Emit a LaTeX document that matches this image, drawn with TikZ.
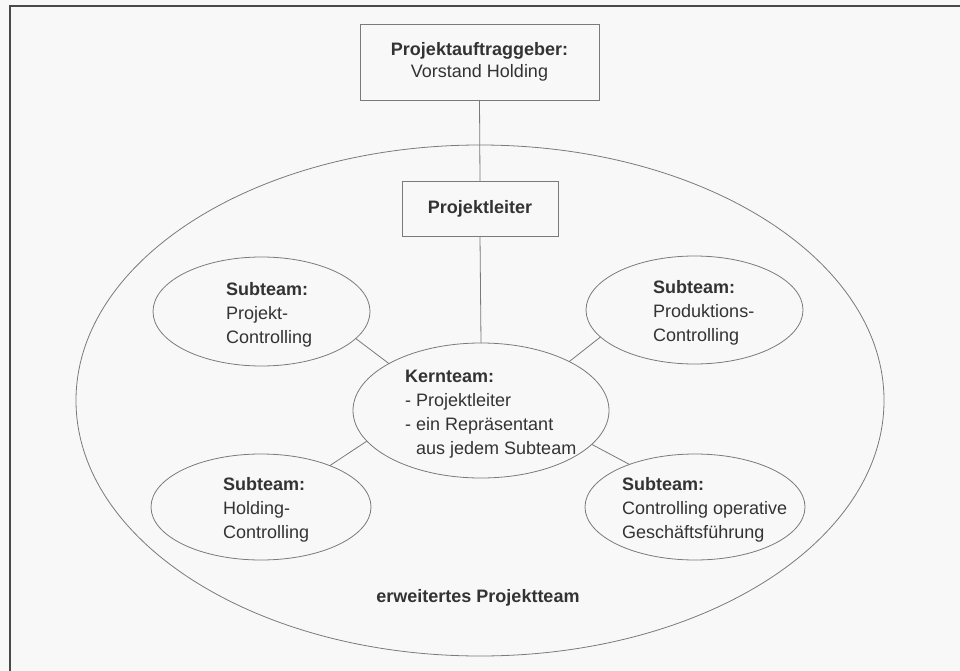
\documentclass[tikz,border=0pt]{standalone}
\usepackage{fontspec}
\setmainfont{Liberation Sans}
\usetikzlibrary{shapes.geometric}
\definecolor{ink}{HTML}{333333}
\definecolor{edge}{HTML}{7A7A7A}
\definecolor{paper}{HTML}{F8F8F8}
\definecolor{framec}{HTML}{4A4A4A}
\begin{document}
\begin{tikzpicture}[x=1pt,y=-1pt,
  every node/.style={text=ink, font=\fontsize{18}{22}\selectfont},
  ebox/.style={draw=edge, line width=0.8pt, rectangle, inner sep=0pt, outer sep=0pt, align=center},
  eell/.style={draw=edge, line width=0.8pt, ellipse, inner sep=0pt, outer sep=0pt},
  txt/.style={anchor=north west, inner sep=0pt, align=left, font=\fontsize{18}{24}\selectfont},
  link/.style={draw=edge, line width=0.8pt},
  framel/.style={draw=framec, line width=1.8pt}]
\fill[paper] (0,0) rectangle (960,671);
\useasboundingbox (0,0) rectangle (960,671);
\draw[framel] (10,671) -- (10,6) -- (960,6);

% outer ellipse
\node[eell, minimum width=808pt, minimum height=511pt] (ext) at (480,400.5) {};

% boxes
\node[ebox, minimum width=239pt, minimum height=76pt] (pag) at (479.5,62)
  {\textbf{Projektauftraggeber:}\\Vorstand Holding};
\node[ebox, minimum width=156pt, minimum height=55pt,
  font=\fontsize{18}{22}\selectfont\bfseries] (pl) at (480,208.5) {Projektleiter};

% inner ellipses
\node[eell, minimum width=256pt, minimum height=135pt] (kt) at (481,410.5) {};
\node[eell, minimum width=217pt, minimum height=109pt] (spc) at (261.5,311.5) {};
\node[eell, minimum width=217pt, minimum height=108pt] (spr) at (694.5,310) {};
\node[eell, minimum width=220pt, minimum height=106pt] (shc) at (261,507) {};
\node[eell, minimum width=220pt, minimum height=106pt] (sco) at (695,507) {};

% texts
\node[txt] (tpc) at (226,282) {\textbf{Subteam:}\\Projekt-\\Controlling};
\node[txt] (tpr) at (653,280) {\textbf{Subteam:}\\Produktions-\\Controlling};
\node[txt] (thc) at (223,477) {\textbf{Subteam:}\\Holding-\\Controlling};
\node[txt] (tco) at (622,477) {\textbf{Subteam:}\\Controlling operative\\Geschäftsführung};
\node[txt] (tkt) at (405,370) {\textbf{Kernteam:}\\- Projektleiter\\- ein Repräsentant\\\phantom{- }aus jedem Subteam};
\node[anchor=base, inner sep=0pt, font=\fontsize{18}{22}\selectfont\bfseries] (lbl) at (478,602) {erweitertes Projektteam};

% connectors
\draw[link] (pag.south) -- (pl.north);
\draw[link] (pl.south) -- (kt.north);
\draw[link] (spc.-16) -- (kt.153);
\draw[link] (spr.-164) -- (kt.29);
\draw[link] (shc.31) -- (kt.-165);
\draw[link] (sco.147) -- (kt.-17);
\end{tikzpicture}
\end{document}
